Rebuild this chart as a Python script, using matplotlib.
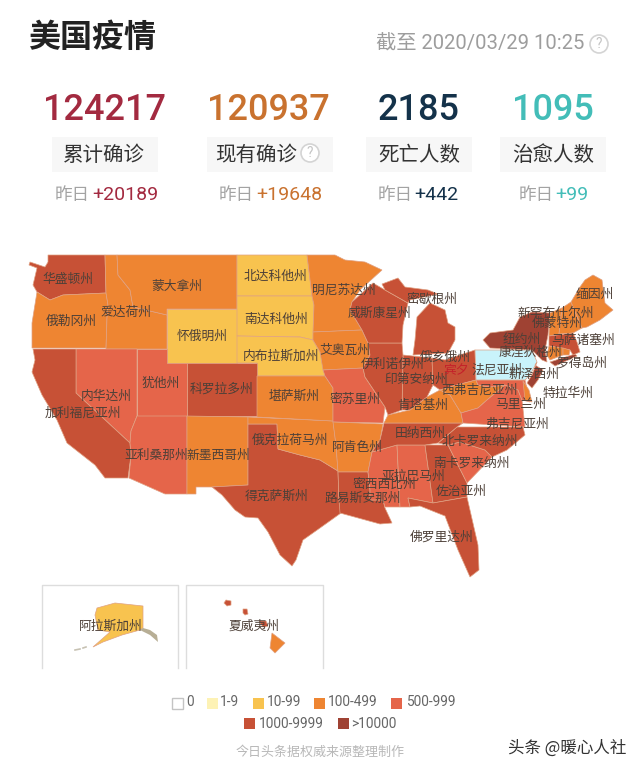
import matplotlib
matplotlib.use("Agg")
import matplotlib.pyplot as plt
from matplotlib.patches import Rectangle, Circle

plt.rcParams['font.family'] = ['Noto Sans CJK SC', 'DejaVu Sans']

title = "美国疫情"
stamp = "截至 2020/03/29 10:25"
kpi_values = ["124217", "120937", "2185", "1095"]
kpi_labels = ["累计确诊", "现有确诊", "死亡人数", "治愈人数"]
kpi_deltas = ["+20189", "+19648", "+442", "+99"]
kpi_colors = ["#a32a40", "#c9722f", "#14324a", "#43bdb8"]

legend_labels = ["0", "1-9", "10-99", "100-499", "500-999", "1000-9999", ">10000"]
palette = ["#ffffff", "#fdf2b5", "#f8c34f", "#ee8532", "#e5654a", "#c75136", "#9f4233", "#c9f3fb"]

# state name, colour class
state_class = {
    "WA": 5, "OR": 3, "ID": 3, "MT": 3, "WY": 2, "ND": 2, "SD": 2, "NE": 2, "CO": 5, "UT": 4,
    "NV": 4, "CA": 5, "AZ": 4, "NM": 3, "TX": 5, "OK": 3, "KS": 3, "MN": 3, "IA": 3, "MO": 4,
    "AR": 3, "LA": 5, "MS": 4, "AL": 4, "GA": 5, "FL": 5, "SC": 4, "NC": 5, "TN": 5, "KY": 3,
    "IN": 5, "IL": 5, "WI": 5, "MIU": 5, "MIL": 5, "OH": 5, "WV": 3, "VA": 4, "MD": 4, "DE": 3,
    "PA": 7, "NJ": 6, "NY": 6, "LI": 6, "CT": 3, "RI": 3, "MA": 5, "VT": 3, "NH": 3, "ME": 3,
    "AK": 2, "HI1": 3, "HI2": 5, "HI3": 5, "HI4": 5,
}

# outlines
outlines = {
    "WA": [(48,255),(105,255),(106,293),(63,295),(50,300),(37,292),(33,285),(37,268),(29,265),(30,262),(45,267),(48,262)],
    "OR": [(37,292),(50,300),(63,295),(106,293),(108,305),(107,318),(106,348),(32,348),(32,323)],
    "ID": [(105,255),(117,255),(118,275),(130,290),(133,307),(167,315),(167,349),(106,349),(107,318),(108,305),(106,293)],
    "MT": [(117,255),(237,255),(237,309),(167,309),(167,315),(133,307),(130,290),(118,275)],
    "WY": [(167,309),(237,309),(237,363),(167,363)],
    "ND": [(237,255),(307,255),(312,296),(237,296)],
    "SD": [(237,296),(312,296),(314,305),(313,340),(300,337),(237,336)],
    "NE": [(237,336),(300,337),(313,340),(320,352),(325,376),(257,376),(257,363),(237,363)],
    "CO": [(187,363),(257,363),(257,416),(187,416)],
    "UT": [(137,349),(167,349),(167,363),(187,363),(187,416),(137,416)],
    "NV": [(76,349),(137,349),(137,416),(131,431),(130,443),(76,393)],
    "CA": [(33,349),(76,349),(76,393),(130,443),(131,455),(128,478),(105,478),(95,465),(67,443),(57,420),(42,395),(32,372),(35,360)],
    "AZ": [(137,416),(187,416),(187,494),(165,494),(129,478),(131,455),(130,443),(131,431)],
    "NM": [(187,416),(248,417),(248,485),(212,487),(196,487),(196,494),(187,494)],
    "TX": [(248,424),(277,424),(278,449),(300,455),(320,460),(338,471),(339,500),(341,513),(320,528),(303,540),(296,560),(292,566),(280,555),(268,532),(258,518),(245,517),(235,510),(222,495),(212,487),(248,485)],
    "OK": [(248,417),(333,421),(336,445),(338,471),(320,460),(300,455),(278,449),(277,424),(248,424)],
    "KS": [(257,376),(325,376),(333,388),(333,421),(257,417)],
    "MN": [(307,255),(335,255),(345,260),(365,262),(382,270),(360,290),(352,302),(350,310),(362,330),(313,332),(314,305),(312,296)],
    "IA": [(313,332),(362,330),(368,343),(370,355),(363,368),(323,370),(320,352),(313,340)],
    "MO": [(323,370),(363,368),(365,377),(385,407),(383,423),(333,422),(333,388),(325,376)],
    "AR": [(333,422),(383,424),(380,440),(372,452),(368,472),(338,472),(336,445)],
    "LA": [(338,472),(368,472),(370,490),(370,500),(383,500),(385,508),(392,523),(380,524),(340,513),(339,500)],
    "MS": [(372,452),(397,445),(400,507),(385,507),(383,500),(370,500),(370,490),(368,472)],
    "AL": [(397,445),(425,445),(433,503),(408,498),(410,507),(400,507)],
    "GA": [(425,445),(448,445),(467,483),(467,497),(433,503)],
    "FL": [(408,498),(433,503),(467,497),(478,545),(479,570),(470,577),(458,550),(445,516),(420,506),(410,507)],
    "SC": [(448,445),(460,442),(485,450),(492,457),(467,483)],
    "NC": [(438,443),(457,427),(523,427),(525,435),(507,450),(492,457),(485,450),(460,442),(448,445)],
    "TN": [(384,423),(463,423),(457,427),(438,443),(425,445),(397,445),(372,452),(380,440)],
    "KY": [(384,423),(388,415),(410,410),(427,397),(440,390),(450,395),(461,413),(463,423)],
    "IN": [(403,355),(432,358),(433,385),(427,397),(410,410),(402,410)],
    "IL": [(368,343),(402,343),(403,355),(402,410),(388,415),(385,407),(365,377),(363,368),(370,355)],
    "WI": [(352,302),(373,283),(385,290),(408,303),(403,325),(402,343),(368,343),(362,330),(350,310)],
    "MIU": [(382,284),(398,278),(405,287),(428,290),(438,294),(410,300),(408,303),(385,290)],
    "MIL": [(417,317),(430,303),(445,310),(448,323),(455,327),(455,340),(448,353),(413,355),(415,340)],
    "OH": [(432,358),(445,360),(460,355),(475,350),(476,380),(453,386),(440,390),(433,385)],
    "WV": [(440,390),(453,386),(476,380),(478,385),(490,387),(505,385),(487,400),(478,408),(461,413),(450,395)],
    "VA": [(461,413),(478,408),(487,400),(505,385),(518,390),(522,400),(525,427),(463,423)],
    "MD": [(476,380),(525,380),(530,402),(522,400),(518,390),(505,385),(490,387),(478,385)],
    "DE": [(523,381),(529,390),(532,402),(525,400)],
    "PA": [(475,350),(532,350),(537,362),(530,375),(525,380),(476,380)],
    "NJ": [(535,365),(543,370),(538,380),(532,388),(527,383),(532,375),(537,362)],
    "NY": [(490,333),(513,330),(520,317),(532,312),(550,313),(548,335),(545,350),(547,362),(542,360),(532,350),(490,348),(483,340)],
    "LI": [(550,362),(575,354),(577,356),(555,366)],
    "VT": [(550,313),(562,308),(559,334),(549,336)],
    "NH": [(562,308),(571,302),(582,328),(573,333),(559,334)],
    "ME": [(585,280),(593,275),(602,280),(605,303),(613,310),(600,320),(587,327),(582,328),(571,302),(580,287)],
    "MA": [(549,336),(573,333),(577,342),(580,352),(573,355),(570,350),(549,346)],
    "CT": [(549,346),(563,348),(563,355),(550,360),(547,355)],
    "RI": [(563,348),(570,350),(569,355),(563,355)],
    "AK": [(97,608),(115,603),(143,606),(143,628),(140,630),(122,635),(103,642),(93,647),(110,632),(98,630),(95,615)],
    "HI1": [(272,633),(285,643),(275,653),(270,648)],
    "HI2": [(226,600),(231,601),(231,605),(227,606),(224,603)],
    "HI3": [(243,609),(247,609),(248,614),(245,615),(243,613)],
    "HI4": [(259,621),(266,621),(268,626),(263,627)],
}
ak_panhandle = [(143,628),(150,630),(157,635),(158,642),(150,635),(140,630)]

state_labels = [
    ("华盛顿州",68,279),("蒙大拿州",177,286),("北达科他州",275,276),("爱达荷州",126,312),("俄勒冈州",71,321),
    ("南达科他州",276,319),("怀俄明州",202,336),("内布拉斯加州",281,356),("犹他州",161,383),("科罗拉多州",222,389),
    ("堪萨斯州",294,396),("内华达州",106,396),("加利福尼亚州",83,413),("俄克拉荷马州",290,440),("亚利桑那州",156,455),
    ("新墨西哥州",218,455),("得克萨斯州",277,496),("明尼苏达州",344,290),("威斯康星州",380,313),("密歇根州",432,299),
    ("艾奥瓦州",345,350),("伊利诺伊州",393,364),("俄亥俄州",445,357),("印第安纳州",416,379),("新泽西州",534,374),
    ("西弗吉尼亚州",479,390),("密苏里州",355,399),("肯塔基州",423,405),("马里兰州",521,404),("特拉华州",568,393),
    ("弗吉尼亚州",517,424),("田纳西州",420,433),("北卡罗来纳州",480,441),("阿肯色州",357,447),("南卡罗来纳州",471,463),
    ("亚拉巴马州",413,476),("佐治亚州",461,491),("密西西比州",384,484),("路易斯安那州",363,498),("佛罗里达州",442,537),
    ("缅因州",595,294),("新罕布什尔州",556,313),("佛蒙特州",557,323),("纽约州",522,339),("马萨诸塞州",583,340),
    ("康涅狄格州",530,352),("罗得岛州",582,363),("阿拉斯加州",111,626),("夏威夷州",254,626),
]

fig = plt.figure(figsize=(6.4, 7.7), dpi=100, facecolor="white")
ax = fig.add_axes([0, 0, 1, 1])
ax.set_xlim(0, 640); ax.set_ylim(770, 0); ax.axis("off")
PX = 0.72
CN = ['Noto Sans CJK SC', 'DejaVu Sans']

ax.text(28, 38, title, fontsize=32*PX, fontweight="bold", color="#222222", ha="left", va="center", family=CN)
ax.text(376, 44, stamp, fontsize=20.3*PX, color="#9d9d9d", ha="left", va="center", family=['Roboto','Noto Sans CJK SC'])

def qmark(x, y, r):
    ax.add_patch(Circle((x, y), r, fc="white", ec="#d4d4d4", lw=1.2))
    ax.text(x, y, "?", fontsize=r*1.5*PX, color="#c4c4c4", ha="center", va="center", family="Roboto")
qmark(599, 44, 9)

kpi_cx = [104, 268, 419, 553]
box_x = [(52,158),(207,333),(366,472),(500,606)]
label_x = [104, 256, 419, 553]
delta_x = [(55,92),(219,256),(378,414),(519,555)]
for i in range(4):
    ax.text(kpi_cx[i], 110, kpi_values[i], fontsize=36*PX, fontweight="medium", color=kpi_colors[i], ha="center", va="center", family="Roboto")
    x0, x1 = box_x[i]
    ax.add_patch(Rectangle((x0, 137), x1-x0, 35, fc="#f7f7f7", ec="none"))
    ax.text(label_x[i], 155, kpi_labels[i], fontsize=20.5*PX, color="#333333", ha="center", va="center", family=CN)
    ax.text(delta_x[i][0], 195, "昨日", fontsize=17.5*PX, color="#a3a3a3", ha="left", va="center", family=CN)
    ax.text(delta_x[i][1], 195, kpi_deltas[i], fontsize=19.5*PX, color=kpi_colors[i], ha="left", va="center", family="Roboto")
qmark(310, 153, 9)

# inset frames
for x0, x1 in [(42, 178), (186, 323)]:
    ax.plot([x0, x0, x1, x1], [668, 585, 585, 668], color="#dddddd", lw=1)

# states
for key, pts in outlines.items():
    xs = [p[0] for p in pts]; ys = [p[1] for p in pts]
    ax.fill(xs, ys, fc=palette[state_class[key]], ec="#e0a183", lw=0.5, zorder=2)
ax.fill([p[0] for p in ak_panhandle], [p[1] for p in ak_panhandle], fc="#b7ae95", ec="none", zorder=2)
for seg in [((75,650),(80,649)),((83,648),(86,647))]:
    ax.plot(*zip(*seg), color="#c7c2b3", lw=1.2, zorder=2)

for name, x, y in state_labels:
    ax.text(x, y, name, fontsize=12.8*PX, color="#4d4038", ha="center", va="center", family=CN, zorder=5)
# Pennsylvania label is broken into a red and a dark part
ax.text(456, 370, "宾夕", fontsize=12.8*PX, color="#c4202a", ha="center", va="center", family=CN, zorder=5)
ax.text(497, 370, "法尼亚州", fontsize=12.8*PX, color="#4d4038", ha="center", va="center", family=CN, zorder=5)

# legend
legend_boxes = [(172,698),(207,698),(253,698),(314,698),(391,698),(244,718),(338,718)]
legend_text_x = [186,220,267,328,406,259,351]
legend_y = [702,702,702,702,702,724,724]
for i, lab in enumerate(legend_labels):
    bx, by = legend_boxes[i]
    ax.add_patch(Rectangle((bx, by), 10.5, 10.5, fc=palette[i], ec="#c4c4c4" if i == 0 else "none", lw=1))
    ax.text(legend_text_x[i], legend_y[i], lab, fontsize=13.8*PX, color="#666666", ha="left", va="center", family="Roboto")

ax.text(320, 752, "今日头条据权威来源整理制作", fontsize=13*PX, color="#b8b8b8", ha="center", va="center", family=CN)
ax.text(508, 748, "头条 @暖心人社", fontsize=16.5*PX, color="#333333", ha="left", va="center", family=CN)

fig.savefig("out.png", dpi=100, facecolor="white")
